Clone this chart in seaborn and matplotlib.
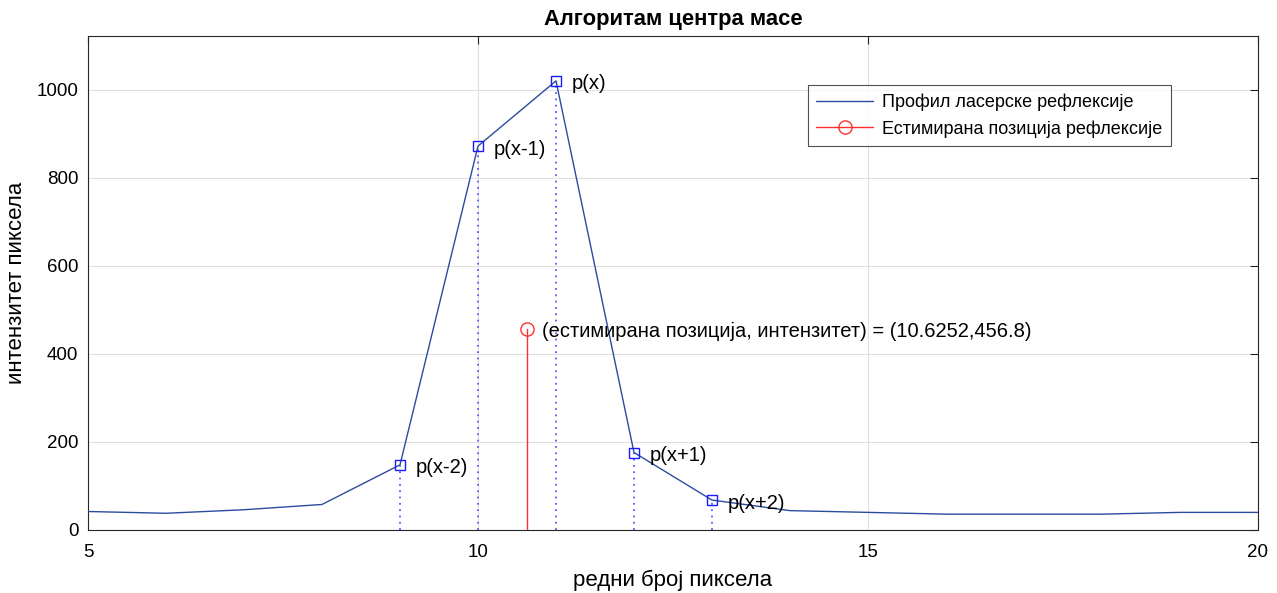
import matplotlib
matplotlib.use("Agg")
import matplotlib.pyplot as plt
import seaborn as sns
import pandas as pd
from matplotlib.lines import Line2D

pixels = [5, 6, 7, 8, 9, 10, 11, 12, 13, 14, 15, 16, 17, 18, 19, 20]
intensity = [42, 38, 46, 58, 148, 872, 1020, 176, 68, 44, 40, 36, 36, 36, 40, 40]
window_x = [9, 10, 11, 12, 13]
window_y = [148, 872, 1020, 176, 68]
window_labels = ["p(x-2)", "p(x-1)", "p(x)", "p(x+1)", "p(x+2)"]
centroid_x = 10.6252
centroid_y = 456.8

title = "Алгоритам центра масе"
xlabel = "редни број пиксела"
ylabel = "интензитет пиксела"
legend_labels = ["Профил ласерске рефлексије", "Естимирана позиција рефлексије"]

sns.set_style("white")
plt.rcParams['font.family'] = ['Liberation Sans', 'DejaVu Sans']
plt.rcParams['text.color'] = 'black'
plt.rcParams['axes.labelcolor'] = 'black'

line_color = "#2b4c9e"
red = "#ff3030"

fig = plt.figure(figsize=(12.77, 5.93), dpi=100)
ax = fig.add_axes([88/1277, 1 - 530/593, 1170/1277, 494/593])

df = pd.DataFrame({"x": pixels, "y": intensity})
sns.lineplot(data=df, x="x", y="y", ax=ax, color=line_color, linewidth=1.0,
             legend=False, zorder=3)

for xv, yv in zip(window_x, window_y):
    ax.plot([xv, xv], [0, yv], linestyle=(0, (1, 2.5)), color="#5a5aff", linewidth=1.3, zorder=2)
ax.plot(window_x, window_y, linestyle="none", marker="s", markersize=7,
        markerfacecolor="none", markeredgecolor="#1a1aff", markeredgewidth=1.0, zorder=4)

ax.plot([centroid_x, centroid_x], [0, centroid_y], color=red, linewidth=1.0, zorder=3)
ax.plot([centroid_x], [centroid_y], linestyle="none", marker="o", markersize=9.5,
        markerfacecolor="none", markeredgecolor=red, markeredgewidth=1.0, zorder=4)

handles = [Line2D([], [], color=line_color, linewidth=1.0),
           Line2D([0, 1], [0, 0], color=red, linewidth=1.0, marker="o",
                  markevery=[1], markerfacecolor="none", markersize=9.5)]

for xv, yv, lab in zip(window_x, window_y, window_labels):
    ax.text(xv + 0.2, yv - 7, lab, fontsize=14.5, va="center", ha="left", zorder=5)
ax.text(centroid_x + 0.2, centroid_y - 7,
        f"(естимирана позиција, интензитет) = ({centroid_x},{centroid_y})",
        fontsize=14.5, va="center", ha="left", zorder=5)

ax.set_xlim(5, 20)
ax.set_ylim(0, 1122)
ax.set_xticks([5, 10, 15, 20])
ax.set_yticks([0, 200, 400, 600, 800, 1000])
ax.grid(True, color="#e0e0e0", linewidth=0.8)
ax.set_axisbelow(True)
ax.tick_params(direction="in", length=6, width=0.8, labelsize=13.5, top=True, right=True,
               colors="#262626", labelcolor="black")
ax.tick_params(axis="x", pad=10)
ax.tick_params(axis="y", pad=7)
for sp in ax.spines.values():
    sp.set_visible(True)
    sp.set_color("#262626")
    sp.set_linewidth(0.8)
ax.set_xlabel(xlabel, fontsize=16, labelpad=6)
ax.set_ylabel(ylabel, fontsize=16, labelpad=7)
ax.set_title(title, fontsize=15.8, fontweight="bold", pad=8)

leg = ax.legend(handles, legend_labels, loc="upper left", bbox_to_anchor=(0.615, 0.9),
                fontsize=13, frameon=True, fancybox=False, edgecolor="#262626",
                borderpad=0.45, labelspacing=0.5, handlelength=3.2, handletextpad=0.5,
                borderaxespad=0)
leg.get_frame().set_linewidth(0.8)

fig.savefig("out.png", dpi=100)
